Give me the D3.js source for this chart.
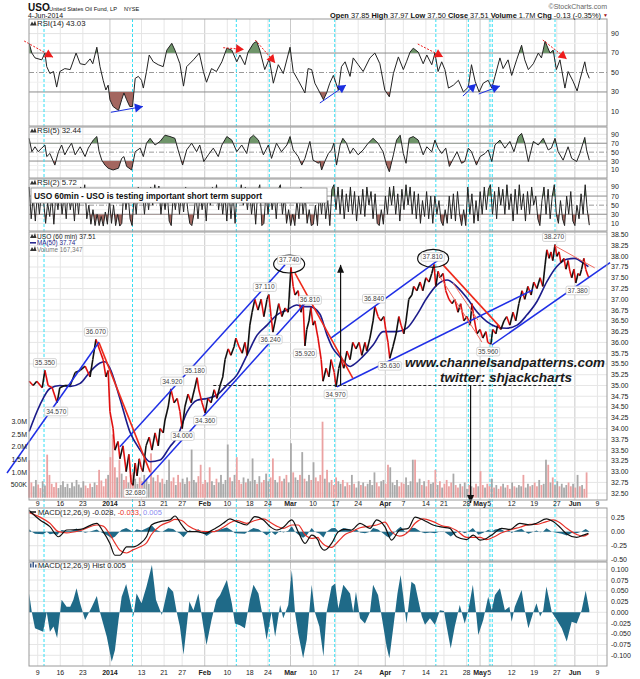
<!DOCTYPE html>
<html><head><meta charset="utf-8">
<script src="https://cdn.jsdelivr.net/npm/d3@7"></script>
<style>
html,body{margin:0;padding:0;background:#fff;}
svg{display:block;}
text{font-family:"Liberation Sans",Arial,sans-serif;}
</style></head>
<body>
<svg id="chart" width="640" height="679"></svg>
<script>
// ================= DATA (time = trading days since 9-Dec-2013) =================
const dateTickDays   = [0,5,10,16,23,28,32,37,42,47,51,56,61,66,71,77,81,86,90,95,98,100,105,110,115,119,124];
const dateTickLabels = ["9","16","23","2014","13","21","27","Feb","10","18","24","Mar","10","17","24","Apr","7","14","21","28","May","5","12","19","27","Jun","9"];
const monthTickLabels = ["2014","Feb","Mar","Apr","May","Jun"];
const cyanMarkerDays = [1.4,21.0,44.0,51.3,65.8,88.2,95.4,100.2,100.7,114.6];

const pricePoints = [[-1.9,35.1],[-1.0,35.0],[-0.2,35.1],[1.0,34.95],[1.6,35.35],[2.3,35.0],[3.2,34.95],[4.3,34.6],[4.9,34.95],[6.0,35.0],[7.2,35.0],[8.3,35.3],[9.4,35.35],[10.5,35.45],[11.6,35.2],[12.2,35.6],[12.9,36.07],[13.8,35.8],[14.5,35.6],[15.1,35.2],[15.6,35.35],[16.0,34.4],[16.7,34.0],[17.1,33.5],[17.8,33.7],[18.2,33.3],[18.9,33.6],[19.6,33.0],[20.2,33.4],[20.7,32.75],[21.1,32.68],[21.6,33.2],[22.0,32.9],[22.5,33.3],[22.9,33.1],[23.3,33.0],[24.0,33.6],[24.7,33.8],[25.3,33.5],[26.0,33.9],[26.7,33.6],[27.1,34.0],[27.8,33.9],[28.2,34.2],[28.9,34.5],[29.5,34.92],[30.2,34.6],[30.9,34.7],[31.5,34.4],[32.0,34.0],[32.6,34.5],[33.3,34.8],[34.0,34.6],[34.7,34.9],[35.3,35.18],[35.7,34.9],[36.4,34.6],[37.1,34.36],[37.7,34.7],[38.4,34.6],[39.1,34.9],[39.7,34.7],[40.4,35.0],[41.0,35.2],[41.5,35.6],[42.2,35.85],[42.8,35.7],[43.5,35.9],[43.9,36.1],[44.6,35.9],[45.3,35.75],[45.9,36.0],[46.4,35.7],[47.0,36.4],[47.5,36.7],[48.1,37.0],[48.8,36.75],[49.5,37.0],[50.1,36.6],[50.8,37.0],[51.2,37.11],[51.7,36.6],[52.1,36.24],[52.8,36.6],[53.4,36.9],[54.1,36.6],[54.8,36.8],[55.5,36.7],[56.1,37.74],[56.6,37.3],[57.0,37.1],[57.7,37.2],[58.3,36.7],[58.8,36.9],[59.2,35.92],[59.6,36.3],[60.1,36.5],[60.5,36.81],[61.0,36.4],[61.4,36.5],[62.1,36.1],[62.8,35.6],[63.2,35.1],[63.9,35.4],[64.5,35.2],[65.0,35.6],[65.7,35.3],[66.1,34.97],[66.7,35.4],[67.2,35.6],[67.8,35.4],[68.5,35.8],[69.2,35.6],[69.8,36.0],[70.5,35.85],[71.2,36.0],[71.8,35.7],[72.5,36.0],[72.9,35.8],[73.6,36.1],[74.3,36.5],[74.7,36.84],[75.4,36.6],[76.0,36.5],[76.7,36.6],[77.1,36.3],[77.6,36.0],[78.0,35.63],[78.7,35.9],[79.4,36.2],[80.0,36.6],[80.5,36.4],[81.1,36.2],[81.6,36.5],[82.2,37.0],[82.9,37.1],[83.3,37.3],[84.0,37.2],[84.7,37.4],[85.3,37.2],[86.0,37.5],[86.7,37.4],[87.3,37.6],[87.8,37.81],[88.2,37.3],[88.7,37.65],[89.1,37.5],[89.8,37.6],[90.4,37.2],[91.1,37.0],[91.8,36.9],[92.4,37.0],[93.1,36.7],[93.7,36.9],[94.4,36.5],[95.1,36.6],[95.8,36.4],[96.2,36.9],[96.6,36.6],[97.3,36.2],[98.0,36.3],[98.6,36.1],[99.3,36.25],[99.7,36.0],[100.4,35.96],[100.8,36.3],[101.5,36.2],[101.9,36.4],[102.6,36.3],[103.3,36.5],[103.9,36.6],[104.6,36.4],[105.3,36.7],[105.9,36.5],[106.6,36.9],[107.3,37.2],[107.9,37.0],[108.6,37.3],[109.3,37.1],[109.9,37.4],[110.6,37.25],[111.3,37.5],[111.9,37.3],[112.4,37.8],[112.8,38.15],[113.3,37.95],[113.7,38.1],[114.1,37.9],[114.6,38.27],[115.0,38.0],[115.5,38.1],[115.9,37.85],[116.6,37.95],[117.0,37.7],[117.5,37.9],[117.9,37.65],[118.3,37.5],[118.8,37.7],[119.2,37.38],[119.7,37.6],[120.1,37.55],[120.5,37.7],[121.0,37.95],[121.4,37.7],[121.9,37.55],[122.1,37.51]];

const ma50Points = [[-1.9,33.93],[0.5,34.55],[2.7,34.93],[4.9,35.0],[7.2,34.98],[9.4,35.05],[11.6,35.32],[13.8,35.52],[14.9,35.55],[16.0,35.4],[18.2,34.7],[20.4,33.93],[22.7,33.5],[24.9,33.23],[27.1,33.27],[29.3,33.58],[30.8,33.78],[33.1,34.39],[35.3,34.66],[37.5,34.7],[39.7,34.78],[41.9,35.01],[44.1,35.24],[46.4,35.71],[48.6,36.17],[50.8,36.4],[53.0,36.64],[55.2,36.75],[57.4,36.87],[58.8,36.83],[60.3,36.83],[62.5,36.66],[64.1,36.17],[65.4,35.86],[66.9,35.67],[69.2,35.44],[69.8,35.47],[72.0,35.67],[74.3,35.94],[76.5,36.25],[79.6,36.25],[81.8,36.33],[84.0,36.64],[86.2,37.03],[88.4,37.33],[90.7,37.45],[92.9,37.29],[95.1,37.03],[97.3,36.71],[99.5,36.48],[101.7,36.36],[103.9,36.33],[106.2,36.4],[108.4,36.64],[110.6,36.95],[112.8,37.41],[115.0,37.76],[117.2,37.93],[119.0,37.95],[120.9,37.84],[122.0,37.76]];

const volumeStartDay = -1.9, volumeStepDays = 0.5;
const volumeK = [1480,600,450,700,520,380,650,480,1700,900,
550,420,600,380,500,650,420,550,380,600,
450,700,520,400,650,480,380,560,420,600,
500,1100,680,450,750,900,1600,2500,1200,800,
1500,950,700,850,600,900,1000,750,550,800,
650,900,700,550,1750,800,650,900,600,750,
550,700,1500,650,800,500,900,600,750,550,
800,650,1900,700,600,850,1300,550,700,600,
1200,650,500,750,600,900,550,700,2100,800,
650,900,1600,700,550,800,600,750,650,1550,
700,550,850,600,700,950,650,800,1550,700,
600,850,650,750,900,600,2150,1000,800,700,
900,1800,750,650,900,700,1400,800,650,900,
3000,750,1100,600,700,500,800,650,550,700,
450,600,500,900,550,400,650,500,600,450,
550,700,500,1000,600,450,650,700,550,1300,
1200,600,500,700,450,600,550,800,500,650,
1500,1500,600,750,500,650,450,700,550,600,
1100,500,650,400,550,700,450,600,950,500,
400,550,450,600,350,500,450,400,550,450,
1050,500,400,550,450,750,400,500,350,450,
550,400,500,350,600,450,400,500,450,900,
400,550,450,500,600,450,700,500,550,1500,
1300,600,800,500,650,450,550,400,500,600,
450,550,400,900,450,500,350,1000];

const rsi14Points = [[-1.9,80],[-1.3,70],[-0.6,65],[0.9,63],[1.6,70],[2.0,56],[2.7,49],[3.5,51],[4.2,35],[4.9,51],[6.0,54],[7.2,53],[8.5,70],[9.4,59],[10.5,58],[11.6,64],[12.2,59],[13.1,76],[13.8,56],[14.5,42],[15.1,32],[15.6,37],[16.0,22],[16.7,15],[17.9,11],[18.6,22],[19.1,29],[19.7,22],[20.4,15],[21.0,15],[21.6,44],[22.3,46],[23.0,42],[23.4,34],[24.1,51],[24.7,68],[25.6,61],[26.7,58],[27.8,56],[28.6,73],[29.7,80],[30.4,73],[31.5,59],[32.3,36],[33.0,56],[34.5,63],[35.8,70],[36.7,51],[37.4,40],[38.5,54],[39.6,51],[40.8,61],[41.9,75],[43.0,73],[44.1,61],[44.8,68],[45.9,58],[46.6,71],[47.8,80],[48.5,82],[49.2,73],[50.3,53],[51.3,64],[52.2,39],[53.3,58],[54.4,49],[55.9,76],[56.6,51],[57.7,42],[59.2,29],[59.9,54],[60.7,53],[61.4,39],[62.2,32],[63.3,22],[64.0,29],[64.7,39],[65.5,47],[66.6,32],[67.3,56],[68.1,61],[69.2,46],[69.9,65],[71.0,58],[72.1,51],[73.6,65],[74.7,70],[75.8,59],[76.9,32],[77.9,25],[78.8,49],[79.9,66],[81.0,53],[81.7,61],[82.5,71],[83.2,75],[84.3,71],[85.4,59],[86.2,68],[87.3,58],[88.0,70],[88.7,51],[89.5,61],[90.2,53],[91.0,34],[92.1,37],[93.2,42],[94.3,30],[95.4,35],[96.1,58],[96.9,41],[97.8,30],[98.7,39],[99.8,42],[100.6,34],[101.3,46],[102.4,65],[103.1,54],[104.2,63],[105.0,47],[106.1,63],[107.2,78],[107.9,63],[108.7,53],[109.8,59],[110.9,70],[111.6,65],[112.4,82],[113.5,70],[114.2,73],[114.9,53],[115.7,63],[116.8,34],[117.5,51],[118.6,41],[119.5,31],[120.1,42],[121.2,61],[121.6,51],[122.2,44]];

const rsi5Points = [[-1.9,81],[-1.3,51],[-0.6,62],[0.1,51],[0.9,59],[1.6,66],[2.0,40],[2.7,47],[3.8,21],[4.6,51],[5.3,66],[6.0,44],[6.8,59],[7.5,70],[8.3,44],[9.4,62],[10.5,40],[11.2,59],[12.3,77],[13.1,85],[13.6,51],[14.2,32],[14.9,21],[15.6,14],[16.7,10],[17.9,14],[18.6,36],[19.1,40],[19.7,18],[20.8,10],[21.6,51],[22.7,59],[23.4,40],[24.1,70],[24.9,81],[26.0,66],[27.1,74],[28.2,88],[29.3,85],[30.4,81],[31.1,55],[32.1,21],[33.0,55],[34.1,70],[35.2,51],[35.9,66],[36.8,29],[37.8,44],[38.9,59],[40.0,40],[40.8,66],[41.9,85],[43.0,77],[44.1,51],[45.2,66],[46.3,47],[47.0,81],[47.8,88],[48.9,77],[50.0,44],[51.1,66],[51.8,36],[52.9,70],[54.0,51],[55.2,66],[55.9,85],[56.6,55],[57.7,40],[58.5,21],[59.2,36],[60.3,74],[61.0,32],[62.2,25],[62.5,29],[62.9,10],[63.6,29],[64.4,47],[65.1,55],[65.6,70],[66.2,21],[67.0,66],[67.6,81],[68.4,70],[69.2,47],[69.9,59],[71.0,44],[72.1,55],[73.2,70],[74.3,81],[75.4,70],[76.5,51],[77.3,21],[77.9,6],[78.8,44],[79.5,77],[80.3,88],[81.0,47],[81.6,25],[82.3,81],[83.2,85],[84.3,77],[85.4,44],[86.2,62],[87.3,51],[88.0,77],[88.7,59],[89.5,47],[90.4,59],[91.2,18],[92.1,36],[92.9,51],[93.9,25],[94.6,29],[95.4,59],[96.1,51],[97.2,21],[98.0,40],[99.1,47],[99.8,55],[100.6,29],[101.3,66],[102.4,77],[103.5,59],[104.6,74],[105.5,51],[106.5,85],[107.2,92],[107.9,70],[108.7,29],[109.8,74],[110.9,66],[112.0,81],[113.1,55],[113.8,59],[114.6,81],[115.3,51],[116.4,32],[117.5,62],[118.3,36],[119.4,29],[120.1,47],[121.2,83],[121.6,55],[122.2,32]];

const rsi2StartDay = -1.9, rsi2EndDay = 122.2;
const rsi2Values = [90,20,70,15,75,30,80,60,10,55,25,70,8,75,40,85,30,75,20,85,40,70,15,80,30,90,60,95,20,50,8,40,5,30,5,25,4,35,8,60,10,50,5,30,4,10,85,40,75,20,5,70,30,90,60,85,30,80,40,90,50,95,60,92,30,75,40,80,15,5,75,40,85,30,80,35,90,40,10,5,30,75,20,80,40,75,15,85,50,90,60,95,40,80,30,75,15,85,20,80,10,85,60,95,50,90,40,85,30,70,8,80,95,5,10,80,30,85,40,75,20,85,95,30,70,10,40,5,30,5,60,20,90,30,70,10,40,5,
8,50,5,80,30,85,20,60,5,85,95,40,90,30,85,20,75,35,90,30,80,15,70,30,85,25,90,50,80,20,75,10,5,40,8,70,30,90,50,92,30,75,15,85,40,95,50,90,30,80,20,75,10,60,25,80,20,70,10,70,30,60,15,5,40,10,70,20,75,15,80,30,5,40,5,90,30,75,10,60,15,80,30,90,40,85,95,30,80,20,90,50,85,30,95,40,75,15,85,30,95,40,75,15,80,30,90,50,70,20,5,60,90,30,85,20,70,95,30,10,60,20,5,70,30,80,15,5,50,20,75,30,95,40,6];

const macdPoints = [[-1.9,0.38],[0.5,0.21],[2.7,0.09],[4.6,-0.09],[6.4,0.03],[9.4,0.04],[13.1,0.15],[14.5,0.0],[16.0,-0.21],[17.1,-0.42],[18.2,-0.42],[19.7,-0.27],[21.2,-0.27],[22.7,-0.21],[24.1,-0.09],[25.2,0.12],[27.1,0.18],[29.3,0.21],[30.4,0.28],[31.9,0.12],[33.4,0.0],[35.2,0.0],[37.1,-0.03],[38.9,0.04],[41.1,0.15],[42.6,0.23],[44.1,0.18],[46.3,0.12],[48.1,0.27],[50.0,0.21],[51.5,0.09],[52.9,0.03],[54.4,0.08],[56.3,0.21],[57.7,0.0],[59.2,-0.21],[60.7,-0.06],[62.1,-0.15],[62.5,-0.24],[63.6,-0.33],[65.1,-0.21],[66.6,0.0],[68.1,0.04],[69.5,0.03],[71.4,0.15],[73.6,0.06],[75.1,0.21],[76.9,0.09],[78.4,-0.15],[80.2,0.03],[82.1,0.06],[83.6,0.26],[85.4,0.21],[87.6,0.12],[89.8,0.08],[91.3,0.06],[92.8,-0.09],[95.0,-0.14],[96.5,-0.06],[98.0,-0.15],[99.4,-0.12],[100.9,-0.04],[102.8,0.06],[104.6,0.04],[106.8,0.15],[109.0,0.12],[110.5,0.15],[112.7,0.23],[114.2,0.18],[115.7,0.08],[117.2,-0.04],[119.4,-0.1],[120.9,-0.06],[122.0,-0.03]];

const signalPoints = [[-1.9,0.34],[0.5,0.26],[2.7,0.15],[4.6,0.0],[6.4,-0.02],[9.4,0.02],[13.1,0.12],[14.5,0.1],[16.0,-0.05],[17.1,-0.2],[18.2,-0.33],[19.7,-0.38],[21.2,-0.32],[22.7,-0.27],[24.1,-0.2],[25.2,-0.05],[27.1,0.1],[29.3,0.18],[30.4,0.22],[31.9,0.2],[33.4,0.1],[35.2,0.03],[37.1,0.0],[38.9,0.0],[41.1,0.08],[42.6,0.16],[44.1,0.2],[46.3,0.15],[48.1,0.2],[50.0,0.23],[51.5,0.17],[52.9,0.1],[54.4,0.06],[56.3,0.12],[57.7,0.12],[59.2,-0.05],[60.7,-0.12],[62.1,-0.1],[62.5,-0.15],[63.6,-0.24],[65.1,-0.28],[66.6,-0.17],[68.1,-0.05],[69.5,0.0],[71.4,0.07],[73.6,0.1],[75.1,0.12],[76.9,0.17],[78.4,0.0],[80.2,-0.08],[82.1,0.0],[83.6,0.15],[85.4,0.23],[87.6,0.18],[89.8,0.1],[91.3,0.08],[92.8,0.02],[95.0,-0.1],[96.5,-0.1],[98.0,-0.1],[99.4,-0.14],[100.9,-0.1],[102.8,-0.02],[104.6,0.03],[106.8,0.08],[109.0,0.13],[110.5,0.13],[112.7,0.18],[114.2,0.21],[115.7,0.16],[117.2,0.06],[119.4,-0.05],[120.9,-0.08],[122.0,-0.04]];

const histPoints = [[-1.9,0.044],[-1.3,0],[-0.6,-0.037],[1.2,-0.045],[2.0,0],[2.7,-0.045],[3.5,-0.033],[4.3,-0.06],[5.3,0.029],[6.4,0.013],[7.2,0.013],[7.9,0.029],[8.6,0.056],[9.4,0.021],[10.5,-0.018],[12.0,0.013],[13.1,0.038],[13.8,0],[15.3,-0.057],[16.4,-0.115],[17.1,-0.088],[17.9,-0.018],[18.6,0.036],[19.6,0.066],[20.4,0.029],[21.2,-0.01],[21.9,0.044],[23.0,0.021],[24.1,0.06],[25.3,0.11],[26.2,0.029],[27.5,-0.006],[28.9,0.06],[30.0,0.048],[30.8,0],[31.5,-0.033],[32.3,-0.099],[33.0,-0.033],[33.6,0.025],[34.5,0.005],[35.6,0.044],[36.7,-0.033],[37.4,-0.076],[38.5,-0.018],[39.6,0.029],[40.4,0.04],[41.9,0.075],[43.0,0.021],[43.7,-0.026],[44.8,-0.03],[45.9,-0.037],[47.0,0.029],[47.8,0.064],[48.9,0.044],[50.0,-0.018],[50.7,-0.064],[51.8,0],[52.6,-0.057],[53.7,0.017],[54.4,-0.014],[55.5,0.017],[56.3,0.098],[57.0,0],[57.7,-0.049],[58.8,-0.107],[59.6,-0.064],[60.7,0.064],[61.4,0],[62.4,-0.033],[63.3,-0.103],[64.0,0],[65.1,0.06],[65.9,0.067],[66.6,0.009],[67.7,0.064],[69.2,0.044],[69.9,0],[70.5,0.048],[71.4,-0.014],[72.5,-0.026],[73.6,0],[74.3,0.064],[75.4,0.04],[76.2,-0.01],[77.3,-0.08],[77.9,-0.107],[78.8,-0.033],[79.7,0.044],[80.4,0.087],[81.0,0.036],[81.7,-0.026],[82.8,0.071],[83.6,0.064],[84.3,0.029],[85.1,-0.01],[85.8,-0.029],[86.9,-0.014],[88.0,-0.029],[89.1,0.005],[90.0,0.003],[90.6,-0.033],[91.5,-0.084],[92.4,-0.033],[93.5,0.017],[94.6,-0.026],[95.4,0.005],[96.4,0.064],[97.2,-0.01],[97.6,-0.053],[98.7,-0.018],[99.8,0.036],[100.6,0.005],[101.3,0.04],[102.4,0.056],[103.5,0.005],[104.5,0.013],[105.0,-0.022],[105.7,0.013],[107.2,0.052],[107.9,0.005],[108.7,-0.037],[109.8,0],[110.5,0.021],[111.3,-0.01],[112.0,0.005],[112.7,0.06],[113.9,0],[115.0,-0.018],[116.1,-0.037],[117.2,-0.068],[118.3,-0.022],[119.4,-0.026],[120.5,0.005],[121.4,0.05],[122.2,0.005]];

// annotations (in data units)
const priceLabelPoints = [[1.6,35.35,"peak"],[4.1,34.57,"trough"],[12.9,36.07,"peak"],[21.6,32.68,"trough"],[29.8,34.92,"peak"],[34.8,35.18,"peak"],[32.1,34.00,"trough"],[37.1,34.36,"trough"],[50.3,37.11,"peak"],[51.6,36.24,"trough"],[55.7,37.74,"peak"],[60.3,36.81,"peak"],[59.2,35.92,"trough"],[66.0,34.97,"trough"],[74.5,36.84,"peak"],[78.0,35.63,"trough"],[87.5,37.81,"peak"],[99.8,35.96,"trough"],[114.4,38.27,"peak"],[119.6,37.38,"trough"]];
const blueTrendlines = [[-6.8,32.97,13.6,36.01],[23.0,32.69,60.3,37.03],[18.2,33.58,54.8,37.80],[64.8,36.09,89.8,37.99],[66.3,34.97,109.7,37.22],[100.6,35.94,126.8,37.85]];
const redTrendlines = [[13.6,35.99,24.9,32.99],[57.0,37.61,69.8,35.17],[89.8,37.80,102.4,36.36]];
const redThinTrendlines = [[88.7,37.59,98.4,36.01],[92.0,37.38,97.5,36.52],[114.6,38.24,123.4,37.73]];
const circledPeaks = [[55.7,37.82],[87.6,37.95]];
const supportLine = [35.0, 38.9, 116.3];
const upArrowLine = [67.1, 35.0, 37.80];
const downArrowLine = [95.9, 35.0, 32.27];
const rsiArrowNotes = [
  [-3.0,82.4,3.4,65.7,"bear"],[16.2,9.1,23.3,15.0,"bull"],[41.1,75.5,45.7,73.7,"bear"],
  [48.2,83.4,52.6,59.8,"bear"],[62.5,18.6,68.3,37.1,"bull"],[84.2,79.3,89.8,66.0,"bear"],
  [94.2,25.8,97.1,38.2,"bull"],[97.7,27.9,102.4,36.1,"bull"],[111.9,83.4,117.2,63.9,"bear"]];

const priceTicks = d3.range(0,25).map(i => 32.5 + i*0.25);
const volumeTicks = [500,1000,1500,2000,2500,3000];
const volumeTickLabels = ["500K","1.0M","1.5M","2.0M","2.5M","3.0M"];
const rsiTicks = [10,30,50,70,90];
const macdTicks = [0.25,0,-0.25,-0.5];
const macdTickLabels = ["0.25","0.00","-0.25","-0.50"];
const histTicks = d3.range(-4,5).map(i => i*0.025);

// ================= LAYOUT =================
const svg = d3.select("#chart");
const L = 29, R = 607;
const x = d3.scaleLinear().domain([-1.93,126.12]).range([L,R]);
const yR14 = d3.scaleLinear().domain([-5,105]).range([126,19]);
const yR5  = d3.scaleLinear().domain([-8.0,106.4]).range([178,127]);
const yR2  = d3.scaleLinear().domain([-6.9,107.6]).range([231,179]);
const yP   = d3.scaleLinear().domain([32.342,38.563]).range([500,232]);
const yV   = d3.scaleLinear().domain([0,3000]).range([497.7,421.7]);
const yM   = d3.scaleLinear().domain([-0.523,0.423]).range([561,508]);
const yH   = d3.scaleLinear().domain([-0.1249,0.117]).range([666,562]);
const panels = [
  {top:19,bot:126},{top:127,bot:178},{top:179,bot:231},{top:232,bot:500},{top:508,bot:561},{top:562,bot:666}
];
const GREEN = "#6f956a", BROWN = "#a3665f", TEAL = "#1f6a88";

svg.append("rect").attr("width",640).attr("height",679).attr("fill","#fff");
const defs = svg.append("defs");

const gBg = svg.append("g");
const gCyan = svg.append("g");
const gData = svg.append("g");
const gTop = svg.append("g");

// backgrounds + vertical grid
panels.forEach(p => {
  gBg.append("rect").attr("x",L).attr("y",p.top).attr("width",R-L).attr("height",p.bot-p.top).attr("fill","#fff");
  dateTickDays.forEach((d,i) => {
    const isMonth = monthTickLabels.includes(dateTickLabels[i]);
    gBg.append("line").attr("x1",x(d)).attr("x2",x(d)).attr("y1",p.top).attr("y2",p.bot)
      .attr("stroke", isMonth ? "#c9c9c9" : "#e6e6e6").attr("stroke-width",1);
  });
});

function hLine(y, color, dash, w){
  const l = gBg.append("line").attr("x1",L).attr("x2",R).attr("y1",y).attr("y2",y)
    .attr("stroke",color).attr("stroke-width",w||1);
  if (dash) l.attr("stroke-dasharray",dash);
}
function rightLabels(vals, labels, y){
  vals.forEach((v,i) => {
    gTop.append("text").attr("x",611).attr("y",y(v)).attr("dy","0.35em")
      .attr("font-size",7).attr("fill","#222").text(labels[i]);
  });
}
// oscillator panels grid
[yR14,yR5,yR2].forEach(y => {
  [10,90].forEach(v => hLine(y(v),"#e3e3e3"));
  [20,40,60,80].forEach(v => hLine(y(v),"#f0f0f0"));
  hLine(y(70),"#8c8c8c");
  hLine(y(30),"#8c8c8c");
  hLine(y(50),"#9a9a9a","5,2,1,2");
  rightLabels(rsiTicks, rsiTicks.map(String), y);
});
// main grid
priceTicks.forEach(v => hLine(yP(v),"#e6e6e6"));
rightLabels(priceTicks, priceTicks.map(v=>v.toFixed(2)), yP);
// macd grid
macdTicks.forEach(v => hLine(yM(v),"#e3e3e3"));
rightLabels(macdTicks, macdTickLabels, yM);
histTicks.forEach(v => hLine(yH(v),"#e6e6e6"));
rightLabels(histTicks, histTicks.map(v=>v.toFixed(3)), yH);

// cyan markers
cyanMarkerDays.forEach(d => {
  gCyan.append("line").attr("x1",x(d)).attr("x2",x(d)).attr("y1",19).attr("y2",666)
    .attr("stroke","#33e0f5").attr("stroke-width",1).attr("stroke-dasharray","3,2");
});

// ---------- oscillators ----------
function clipRect(id, y0, y1){
  defs.append("clipPath").attr("id",id).append("rect").attr("x",L).attr("y",y0).attr("width",R-L).attr("height",Math.max(0,y1-y0));
}
function drawOsc(points, y, top, bot, id){
  clipRect(id+"hi", top, y(70));
  clipRect(id+"lo", y(30), bot);
  gData.append("path").datum(points).attr("clip-path",`url(#${id}hi)`)
    .attr("d", d3.area().x(d=>x(d[0])).y0(y(70)).y1(d=>y(d[1]))).attr("fill",GREEN);
  gData.append("path").datum(points).attr("clip-path",`url(#${id}lo)`)
    .attr("d", d3.area().x(d=>x(d[0])).y0(y(30)).y1(d=>y(d[1]))).attr("fill",BROWN);
  gData.append("path").datum(points).attr("fill","none").attr("stroke","#222").attr("stroke-width",1)
    .attr("d", d3.line().x(d=>x(d[0])).y(d=>y(d[1])));
}
drawOsc(rsi14Points, yR14, 19, 126, "r14");
drawOsc(rsi5Points, yR5, 127, 178, "r5");
const rsi2Points = rsi2Values.map((v,i) => [rsi2StartDay + i*(rsi2EndDay-rsi2StartDay)/(rsi2Values.length-1), v]);
drawOsc(rsi2Points, yR2, 179, 231, "r2");

// RSI arrows
function arrowHead(g, x1,y1,x2,y2,len,half,color){
  const a = Math.atan2(y2-y1,x2-x1);
  const bx = x2 - len*Math.cos(a), by = y2 - len*Math.sin(a);
  const px = -Math.sin(a)*half, py = Math.cos(a)*half;
  g.append("path").attr("d",`M${x2},${y2}L${bx+px},${by+py}L${bx-px},${by-py}Z`).attr("fill",color);
}
rsiArrowNotes.forEach(n => {
  const color = n[4]==="bear" ? "#ee1c1c" : "#1a2fe0";
  const x1=x(n[0]), y1=yR14(n[1]), x2=x(n[2]), y2=yR14(n[3]);
  const l = gTop.append("line").attr("x1",x1).attr("y1",y1).attr("x2",x2).attr("y2",y2)
    .attr("stroke",color).attr("stroke-width",1);
  if (n[4]==="bear") l.attr("stroke-dasharray","2,1.5");
  arrowHead(gTop, x1,y1,x2,y2, 8, 4.5, color);
});

// ---------- main panel ----------
function priceDirAt(t){
  let j = pricePoints.findIndex(p => p[0] >= t);
  if (j <= 0) j = 1;
  return pricePoints[j][1] - pricePoints[j-1][1];
}
volumeK.forEach((v,i) => {
  const t = volumeStartDay + i*volumeStepDays;
  const down = priceDirAt(t) < 0;
  gData.append("rect").attr("x",x(t)-0.9).attr("width",1.8)
    .attr("y",yV(v)).attr("height",yV(0)-yV(v))
    .attr("fill", down ? "#eba2a2" : "#a9a9a9");
});
// MA50
gData.append("path").datum(ma50Points).attr("fill","none").attr("stroke","#1c1c8a").attr("stroke-width",1.6)
  .attr("d", d3.line().curve(d3.curveMonotoneX).x(d=>x(d[0])).y(d=>yP(d[1])));
// price bars as segments
for (let i=1;i<pricePoints.length;i++){
  const a = pricePoints[i-1], b = pricePoints[i];
  gData.append("line").attr("x1",x(a[0])).attr("y1",yP(a[1])).attr("x2",x(b[0])).attr("y2",yP(b[1]))
    .attr("stroke", b[1] < a[1] ? "#e01010" : "#111").attr("stroke-width",1.6);
}
// trendlines
function tl(arr, color, w){
  arr.forEach(s => gTop.append("line").attr("x1",x(s[0])).attr("y1",yP(s[1])).attr("x2",x(s[2])).attr("y2",yP(s[3]))
    .attr("stroke",color).attr("stroke-width",w));
}
tl(blueTrendlines, "#1f2fe6", 1.5);
tl(redTrendlines, "#ee2a1a", 1.6);
tl(redThinTrendlines, "#f06a60", 1);
// support dashed
gTop.append("line").attr("x1",x(supportLine[1])).attr("x2",x(supportLine[2])).attr("y1",yP(supportLine[0])).attr("y2",yP(supportLine[0]))
  .attr("stroke","#222").attr("stroke-width",1.2).attr("stroke-dasharray","3,2");
// black arrows
[upArrowLine, downArrowLine].forEach(a => {
  const xx = x(a[0]), y1 = yP(a[1]), y2 = yP(a[2]);
  gTop.append("line").attr("x1",xx).attr("x2",xx).attr("y1",y1).attr("y2",y2).attr("stroke","#111").attr("stroke-width",1.2);
  arrowHead(gTop, xx,y1,xx,y2, 8, 3.5, "#111");
});
// circles
circledPeaks.forEach(c => gTop.append("ellipse").attr("cx",x(c[0])).attr("cy",yP(c[1])).attr("rx",15.5).attr("ry",9)
  .attr("fill","none").attr("stroke","#111").attr("stroke-width",1.2));
// price labels
priceLabelPoints.forEach(p => {
  const cx = x(p[0]), cy = yP(p[1]) + (p[2]==="peak" ? -7.5 : 7.5);
  gTop.append("rect").attr("x",cx-11.5).attr("y",cy-4.3).attr("width",23).attr("height",8.6).attr("rx",1.5)
    .attr("fill","#fff").attr("stroke","#c4c4c4").attr("stroke-width",0.7);
  gTop.append("text").attr("x",cx).attr("y",cy).attr("dy","0.35em").attr("text-anchor","middle")
    .attr("font-size",6.6).attr("fill","#444").text(p[1].toFixed(3));
});
// watermark
gTop.append("text").attr("x",405).attr("y",367).attr("textLength",200).attr("lengthAdjust","spacingAndGlyphs")
  .attr("font-family","'Liberation Serif','DejaVu Serif',serif").attr("font-style","italic").attr("font-weight","bold")
  .attr("font-size",13).attr("fill","#1a1a1a").text("www.channelsandpatterns.com");
gTop.append("text").attr("x",440).attr("y",382).attr("textLength",132).attr("lengthAdjust","spacingAndGlyphs")
  .attr("font-family","'Liberation Serif','DejaVu Serif',serif").attr("font-style","italic").attr("font-weight","bold")
  .attr("font-size",13).attr("fill","#1a1a1a").text("twitter: shjackcharts");

// ---------- MACD ----------
gData.append("path").datum(histPoints).attr("fill",TEAL)
  .attr("d", d3.area().x(d=>x(d[0])).y0(yM(0)).y1(d=>yM(d[1])));
gData.append("path").datum(signalPoints).attr("fill","none").attr("stroke","#e8322a").attr("stroke-width",1.2)
  .attr("d", d3.line().curve(d3.curveMonotoneX).x(d=>x(d[0])).y(d=>yM(d[1])));
gData.append("path").datum(macdPoints).attr("fill","none").attr("stroke","#111").attr("stroke-width",1.2)
  .attr("d", d3.line().curve(d3.curveMonotoneX).x(d=>x(d[0])).y(d=>yM(d[1])));
gData.append("path").datum(histPoints).attr("fill",TEAL)
  .attr("d", d3.area().x(d=>x(d[0])).y0(yH(0)).y1(d=>yH(d[1])));

// borders
panels.forEach(p => gTop.append("rect").attr("x",L).attr("y",p.top).attr("width",R-L).attr("height",p.bot-p.top)
  .attr("fill","none").attr("stroke","#9a9a9a").attr("stroke-width",1));

// date axes
[504, 673].forEach(yy => {
  dateTickDays.forEach((d,i) => {
    const lab = dateTickLabels[i];
    gTop.append("text").attr("x",x(d)).attr("y",yy).attr("dy","0.35em").attr("text-anchor","middle")
      .attr("font-size",7).attr("font-weight", monthTickLabels.includes(lab) ? "bold" : "normal")
      .attr("fill","#222").text(lab);
  });
});
// volume labels (left)
volumeTicks.forEach((v,i) => gTop.append("text").attr("x",27).attr("y",yV(v)).attr("dy","0.35em")
  .attr("text-anchor","end").attr("font-size",7).attr("fill","#222").text(volumeTickLabels[i]));

// ---------- texts ----------
function txt(xx,yy,s,size,opts){
  const t = gTop.append("text").attr("x",xx).attr("y",yy).attr("font-size",size).text(s);
  Object.entries(opts||{}).forEach(([k,v]) => t.attr(k,v));
  return t;
}
txt(28,10.5,"USO",10,{"font-weight":"bold","fill":"#111"});
txt(49,10.5,"United States Oil Fund, LP",6.2,{"fill":"#111","textLength":68,"lengthAdjust":"spacingAndGlyphs"});
txt(124,10.5,"NYSE",5.6,{"fill":"#111"});
txt(28,18,"4-Jun-2014",6.6,{"fill":"#111","textLength":35,"lengthAdjust":"spacingAndGlyphs"});
txt(607,8.5,"©StockCharts.com",7,{"fill":"#666","text-anchor":"end"});
const ohlc = gTop.append("text").attr("x",330).attr("y",17.5).attr("font-size",7).attr("fill","#111")
  .attr("textLength",271).attr("lengthAdjust","spacingAndGlyphs");
[["Open",1],[" 37.85  ",0],["High",1],[" 37.97  ",0],["Low",1],[" 37.50  ",0],["Close",1],[" 37.51  ",0],["Volume",1],[" 1.7M  ",0],["Chg",1],[" -0.13 (-0.35%)",0]]
  .forEach(([s,b]) => ohlc.append("tspan").attr("font-weight",b?"bold":"normal").text(s));
txt(603,17,"▼",5,{"fill":"#a01010"});

// panel legends
function icon(xx,yy){ gTop.append("path").attr("d",`M${xx},${yy}l2,-4l1.5,2.5l1.5,-3.5l1.5,5z`).attr("fill","#333"); }
icon(30,25.5); txt(37,26,"RSI(14) 43.03",7.8,{"fill":"#222"});
icon(30,132.5); txt(37,133,"RSI(5) 32.44",7.8,{"fill":"#222"});
icon(30,184.5); txt(37,185,"RSI(2) 5.72",7.8,{"fill":"#222"});
icon(30,238); txt(37,238.5,"USO (60 min) 37.51",6.6,{"fill":"#222"});
gTop.append("line").attr("x1",30).attr("x2",36).attr("y1",242.8).attr("y2",242.8).attr("stroke","#1c1c8a").attr("stroke-width",1.5);
txt(37,245,"MA(50) 37.74",6.3,{"fill":"#1c1c8a"});
icon(30,251); txt(37,251.6,"Volume 167,347",6.3,{"fill":"#777"});
gTop.append("line").attr("x1",30).attr("x2",36).attr("y1",512).attr("y2",512).attr("stroke","#111").attr("stroke-width",1.5);
const ml = txt(38,515,"",7.5,{"fill":"#222"});
ml.append("tspan").text("MACD(12,26,9) -0.028, ");
ml.append("tspan").attr("fill","#e8322a").text("-0.033");
ml.append("tspan").text(", ");
ml.append("tspan").attr("fill","#8c8cf0").text("0.005");
gTop.append("rect").attr("x",30).attr("y",563.5).attr("width",1.5).attr("height",4).attr("fill","#3d5a8a");
gTop.append("rect").attr("x",32.5).attr("y",562).attr("width",1.5).attr("height",5.5).attr("fill","#3d5a8a");
gTop.append("rect").attr("x",35).attr("y",564.5).attr("width",1.5).attr("height",3).attr("fill","#3d5a8a");
txt(38,568,"MACD(12,26,9) Hist 0.005",7.5,{"fill":"#222"});

// title box
gTop.append("rect").attr("x",31).attr("y",188).attr("width",296).attr("height",15).attr("fill","#fff").attr("stroke","#888").attr("stroke-width",0.8);
txt(34,199,"USO 60min - USO is testing important short term support",8.4,{"font-weight":"bold","fill":"#111","textLength":228,"lengthAdjust":"spacingAndGlyphs"});
</script>
</body></html>
